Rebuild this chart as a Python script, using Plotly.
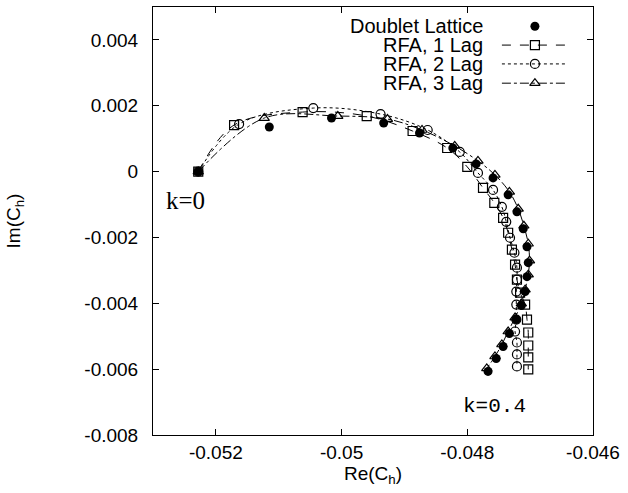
import plotly.graph_objects as go

# Hinge moment coefficient, k = 0 ... 0.4
dl_re = [-0.05228, -0.05115, -0.05016, -0.04933, -0.04876, -0.04823, -0.04786,
         -0.04759, -0.04735, -0.04721, -0.04711, -0.04705, -0.04703, -0.04705,
         -0.04708, -0.04714, -0.04722, -0.04733, -0.04743, -0.04754, -0.04767]
dl_im = [0.0, 0.001354, 0.001627, 0.001476, 0.001173, 0.000718, 0.000233,
         -0.000191, -0.000706, -0.001221, -0.001736, -0.002282, -0.002766, -0.00319,
         -0.003645, -0.004069, -0.004493, -0.004918, -0.005312, -0.005675, -0.006069]

lag1_re = [-0.05228, -0.05171, -0.05062, -0.04960, -0.04887, -0.04832, -0.04800,
           -0.04775, -0.04757, -0.04743, -0.04735, -0.04729, -0.04724, -0.04721,
           -0.04716, -0.04708, -0.04705, -0.04703, -0.04703, -0.04703, -0.04703]
lag1_im = [0.0, 0.001415, 0.001809, 0.001688, 0.001233, 0.000718, 0.000142,
           -0.000494, -0.000948, -0.001403, -0.001857, -0.002372, -0.002827, -0.003281,
           -0.003675, -0.004039, -0.004493, -0.004887, -0.005281, -0.005645, -0.006008]

lag2_re = [-0.05228, -0.05163, -0.05045, -0.04938, -0.04863, -0.04812, -0.04783,
           -0.04759, -0.04745, -0.04738, -0.04732, -0.04725, -0.04721, -0.04721,
           -0.04722, -0.04722, -0.04722, -0.04724, -0.04721, -0.04721, -0.04721]
lag2_im = [0.0, 0.001445, 0.00193, 0.001748, 0.001264, 0.000597, -0.00004,
           -0.000555, -0.00107, -0.001524, -0.002009, -0.002464, -0.002918, -0.003281,
           -0.003645, -0.004039, -0.004493, -0.004857, -0.00519, -0.005554, -0.005918]

lag3_re = [-0.05228, -0.05123, -0.05006, -0.04927, -0.04872, -0.04820, -0.04783,
           -0.04756, -0.04733, -0.04719, -0.04710, -0.04703, -0.04701, -0.04703,
           -0.04708, -0.04714, -0.04724, -0.04735, -0.04745, -0.04756, -0.04769]
lag3_im = [0.0, 0.001627, 0.001688, 0.001597, 0.001264, 0.000779, 0.000324,
           -0.0001, -0.000615, -0.00113, -0.001645, -0.002191, -0.002706, -0.00313,
           -0.003584, -0.004009, -0.004433, -0.004857, -0.005251, -0.005615, -0.005978]

x_ticks = [-0.052, -0.05, -0.048, -0.046]
x_tick_labels = ["-0.052", "-0.05", "-0.048", "-0.046"]
y_ticks = [-0.008, -0.006, -0.004, -0.002, 0, 0.002, 0.004]
y_tick_labels = ["-0.008", "-0.006", "-0.004", "-0.002", "0", "0.002", "0.004"]

legend_names = ["Doublet Lattice", "RFA, 1 Lag", "RFA, 2 Lag", "RFA, 3 Lag"]

FONT = "Liberation Sans, Arial, sans-serif"
fig = go.Figure()

# data
fig.add_trace(go.Scatter(x=dl_re, y=dl_im, mode="markers",
                         marker=dict(symbol="circle", size=9, color="black"),
                         showlegend=False))
series = [
    (lag1_re, lag1_im, "dash", "square-open"),
    (lag2_re, lag2_im, "dot", "circle-open"),
    (lag3_re, lag3_im, "dashdot", "triangle-up-open"),
]
for xs, ys, dash, sym in series:
    fig.add_trace(go.Scatter(x=xs, y=ys, mode="lines+markers",
                             line=dict(color="black", width=1, dash=dash, shape="spline"),
                             marker=dict(symbol=sym, size=9, color="black",
                                         line=dict(width=1.2, color="black")),
                             showlegend=False))

# gnuplot-style key: text on the left, sample on the right
row_y = [0.955, 0.911, 0.867, 0.822]
x_txt, x_l0, x_mk, x_l1 = 0.7545, 0.793, 0.868, 0.9386
fig.add_trace(go.Scatter(x=[x_mk], y=[row_y[0]], mode="markers", xaxis="x2", yaxis="y2",
                         marker=dict(symbol="circle", size=9, color="black"),
                         showlegend=False, hoverinfo="skip"))
for (xs, ys, dash, sym), yy in zip(series, row_y[1:]):
    fig.add_trace(go.Scatter(x=[x_l0, x_l1], y=[yy, yy], mode="lines", xaxis="x2", yaxis="y2",
                             line=dict(color="black", width=1, dash=dash),
                             showlegend=False, hoverinfo="skip"))
    fig.add_trace(go.Scatter(x=[x_mk], y=[yy], mode="markers", xaxis="x2", yaxis="y2",
                             marker=dict(symbol=sym, size=9, color="black",
                                         line=dict(width=1.2, color="black")),
                             showlegend=False, hoverinfo="skip"))
for name, yy in zip(legend_names, row_y):
    fig.add_annotation(x=x_txt, y=yy, xref="paper", yref="paper", text=name,
                       showarrow=False, xanchor="right", yanchor="middle",
                       font=dict(family=FONT, size=20, color="black"))

fig.add_annotation(x=-0.05249, y=-0.00088, text="k=0", showarrow=False,
                   font=dict(family="Liberation Serif, Times New Roman, serif", size=25, color="black"))
fig.add_annotation(x=-0.04756, y=-0.00713, text="k=0.4", showarrow=False,
                   font=dict(family="Liberation Mono, Courier New, monospace", size=21, color="black"))

axis_common = dict(showline=True, linecolor="black", linewidth=1, mirror="ticks",
                   ticks="inside", ticklen=6, tickcolor="black", showgrid=False,
                   zeroline=False, tickfont=dict(family=FONT, size=19, color="black"))

fig.update_layout(
    width=628, height=493,
    margin=dict(l=153, r=35, t=7, b=58),
    paper_bgcolor="white", plot_bgcolor="white",
    xaxis=dict(range=[-0.053, -0.046], tickvals=x_ticks, ticktext=x_tick_labels,
               title=dict(text="Re(C<sub>h</sub>)", standoff=2,
                          font=dict(family=FONT, size=19, color="black")),
               **axis_common),
    yaxis=dict(range=[-0.008, 0.005], tickvals=y_ticks, ticktext=y_tick_labels,
               ticklabelstandoff=10,
               title=dict(text="Im(C<sub>h</sub>)", standoff=58,
                          font=dict(family=FONT, size=19, color="black")),
               **axis_common),
    xaxis2=dict(overlaying="x", range=[0, 1], visible=False),
    yaxis2=dict(overlaying="y", range=[0, 1], visible=False),
    showlegend=False,
)

fig.write_html("out.html", config={"displayModeBar": False},
               post_script="document.body.style.margin='0';")
